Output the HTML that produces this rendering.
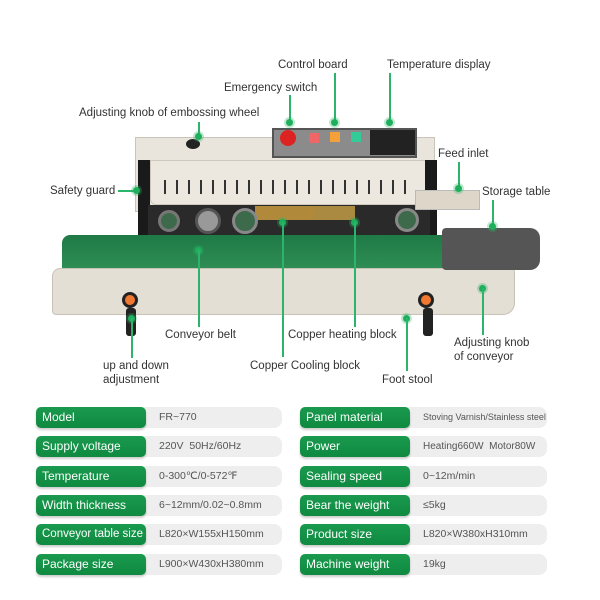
<!DOCTYPE html>
<html><head><style>
*{margin:0;padding:0;box-sizing:border-box}
body{width:600px;height:600px;background:#fff;position:relative;overflow:hidden;font-family:"Liberation Sans",sans-serif}
.a{position:absolute}
.t{position:absolute;font-size:11.5px;color:#333;white-space:nowrap;line-height:14px}
.v{position:absolute;width:2px;background:#2cb46a}
.h{position:absolute;height:2px;background:#2cb46a}
.d{position:absolute;width:7px;height:7px;border-radius:50%;background:#1fae5c;box-shadow:0 0 0 2px rgba(40,180,100,.3)}
.l{position:absolute;height:21px;border-radius:5px;background:linear-gradient(#1a9a4e,#0f8a40);color:#fff;font-size:12px;line-height:21px;padding-left:6px;box-shadow:0 2px 2px rgba(0,0,0,.2);width:110px;white-space:nowrap}
.g{position:absolute;height:21px;border-radius:0 8px 8px 0;background:#eeeeee;color:#555;font-size:10.5px;line-height:21px;padding-left:19px;white-space:nowrap}
.vent{position:absolute;top:180px;width:2px;height:14px;background:#333}
</style></head><body>
<!-- machine -->
<div class="a" style="left:135px;top:137px;width:300px;height:75px;background:#e9e4dc;border:1px solid #c9c3b8"></div>
<div class="a" style="left:150px;top:160px;width:280px;height:45px;background:#ece7df;border-radius:0 0 6px 6px;border:1px solid #cfc9bd"></div>
<div class="vent" style="left:164px"></div><div class="vent" style="left:176px"></div><div class="vent" style="left:188px"></div><div class="vent" style="left:200px"></div><div class="vent" style="left:212px"></div><div class="vent" style="left:224px"></div><div class="vent" style="left:236px"></div><div class="vent" style="left:248px"></div><div class="vent" style="left:260px"></div><div class="vent" style="left:272px"></div><div class="vent" style="left:284px"></div><div class="vent" style="left:296px"></div><div class="vent" style="left:308px"></div><div class="vent" style="left:320px"></div><div class="vent" style="left:332px"></div><div class="vent" style="left:344px"></div><div class="vent" style="left:356px"></div><div class="vent" style="left:368px"></div><div class="vent" style="left:380px"></div><div class="vent" style="left:392px"></div><div class="vent" style="left:404px"></div>
<div class="a" style="left:138px;top:160px;width:12px;height:75px;background:#1a1a1a"></div>
<div class="a" style="left:425px;top:160px;width:12px;height:75px;background:#1a1a1a"></div>
<div class="a" style="left:148px;top:205px;width:282px;height:35px;background:#2a2a2a"></div>
<div class="a" style="left:255px;top:206px;width:95px;height:14px;background:#b08a3a"></div>
<div class="a" style="left:315px;top:206px;width:40px;height:14px;background:#a98a40"></div>
<div class="a" style="left:158px;top:210px;width:22px;height:22px;border-radius:50%;background:#3e6a4c;border:3px solid #777"></div>
<div class="a" style="left:195px;top:208px;width:26px;height:26px;border-radius:50%;background:#999;border:3px solid #555"></div>
<div class="a" style="left:232px;top:208px;width:26px;height:26px;border-radius:50%;background:#3e6a4c;border:3px solid #888"></div>
<div class="a" style="left:395px;top:208px;width:24px;height:24px;border-radius:50%;background:#3e6a4c;border:3px solid #888"></div>
<div class="a" style="left:272px;top:128px;width:145px;height:30px;background:#8b8b8b;border:2px solid #555"></div>
<div class="a" style="left:280px;top:130px;width:16px;height:16px;border-radius:50%;background:#d22"></div>
<div class="a" style="left:309px;top:133px;width:10px;height:10px;background:#e66"></div>
<div class="a" style="left:330px;top:132px;width:10px;height:10px;background:#f6a03a"></div>
<div class="a" style="left:351px;top:132px;width:10px;height:10px;background:#3c9"></div>
<div class="a" style="left:370px;top:130px;width:45px;height:25px;background:#222"></div>
<div class="a" style="left:186px;top:139px;width:14px;height:10px;border-radius:50%;background:#222"></div>
<div class="a" style="left:415px;top:190px;width:65px;height:20px;background:#ddd6c9;border:1px solid #bbb"></div>
<div class="a" style="left:62px;top:235px;width:385px;height:35px;background:linear-gradient(#1f7a45,#2e8e55);border-radius:8px 0 0 0"></div>
<div class="a" style="left:52px;top:268px;width:463px;height:47px;background:#e4dfd5;border:1px solid #c8c2b6;border-radius:8px 4px 12px 4px"></div>
<div class="a" style="left:442px;top:228px;width:98px;height:42px;background:#555;border-radius:4px 10px 10px 4px"></div>
<div class="a" style="left:122px;top:292px;width:16px;height:16px;border-radius:50%;background:#f07830;border:3px solid #222"></div>
<div class="a" style="left:418px;top:292px;width:16px;height:16px;border-radius:50%;background:#f07830;border:3px solid #222"></div>
<div class="a" style="left:126px;top:308px;width:10px;height:28px;background:#222;border-radius:3px"></div>
<div class="a" style="left:423px;top:308px;width:10px;height:28px;background:#222;border-radius:3px"></div>
<!-- labels -->
<div class="t" style="left:278px;top:58px">Control board</div>
<div class="v" style="left:334px;top:73px;height:49px"></div><div class="d" style="left:331px;top:119px"></div>
<div class="t" style="left:387px;top:58px">Temperature display</div>
<div class="v" style="left:389px;top:73px;height:49px"></div><div class="d" style="left:386px;top:119px"></div>
<div class="t" style="left:224px;top:81px">Emergency switch</div>
<div class="v" style="left:289px;top:95px;height:27px"></div><div class="d" style="left:286px;top:119px"></div>
<div class="t" style="left:79px;top:106px">Adjusting knob of embossing wheel</div>
<div class="v" style="left:198px;top:122px;height:14px"></div><div class="d" style="left:195px;top:133px"></div>
<div class="t" style="left:438px;top:147px">Feed inlet</div>
<div class="v" style="left:458px;top:162px;height:26px"></div><div class="d" style="left:455px;top:185px"></div>
<div class="t" style="left:50px;top:184px">Safety guard</div>
<div class="h" style="left:118px;top:190px;width:18px"></div><div class="d" style="left:133px;top:187px"></div>
<div class="t" style="left:482px;top:185px">Storage table</div>
<div class="v" style="left:492px;top:200px;height:27px"></div><div class="d" style="left:489px;top:223px"></div>
<div class="d" style="left:195px;top:247px"></div><div class="v" style="left:198px;top:250px;height:77px"></div>
<div class="t" style="left:165px;top:328px">Conveyor belt</div>
<div class="d" style="left:351px;top:219px"></div><div class="v" style="left:354px;top:222px;height:105px"></div>
<div class="t" style="left:288px;top:328px">Copper heating block</div>
<div class="d" style="left:479px;top:285px"></div><div class="v" style="left:482px;top:288px;height:47px"></div>
<div class="t" style="left:454px;top:336px">Adjusting knob<br>of conveyor</div>
<div class="d" style="left:128px;top:315px"></div><div class="v" style="left:131px;top:318px;height:40px"></div>
<div class="t" style="left:103px;top:359px">up and down<br>adjustment</div>
<div class="d" style="left:279px;top:219px"></div><div class="v" style="left:282px;top:222px;height:135px"></div>
<div class="t" style="left:250px;top:359px">Copper Cooling block</div>
<div class="d" style="left:403px;top:315px"></div><div class="v" style="left:406px;top:318px;height:53px"></div>
<div class="t" style="left:382px;top:373px">Foot stool</div>
<!-- table -->
<div class="g" style="left:140px;top:407px;width:142px">FR~770</div><div class="l" style="left:36px;top:407px">Model</div>
<div class="g" style="left:140px;top:436px;width:142px">220V&nbsp; 50Hz/60Hz</div><div class="l" style="left:36px;top:436px">Supply voltage</div>
<div class="g" style="left:140px;top:466px;width:142px">0-300℃/0-572℉</div><div class="l" style="left:36px;top:466px">Temperature</div>
<div class="g" style="left:140px;top:495px;width:142px">6~12mm/0.02~0.8mm</div><div class="l" style="left:36px;top:495px">Width thickness</div>
<div class="g" style="left:140px;top:524px;width:142px">L820×W155xH150mm</div><div class="l" style="left:36px;top:524px;font-size:11.5px">Conveyor table size</div>
<div class="g" style="left:140px;top:554px;width:142px">L900×W430xH380mm</div><div class="l" style="left:36px;top:554px">Package size</div>
<div class="g" style="left:404px;top:407px;width:143px;font-size:9px">Stoving Varnish/Stainless steel</div><div class="l" style="left:300px;top:407px">Panel material</div>
<div class="g" style="left:404px;top:436px;width:143px;font-size:10px">Heating660W&nbsp; Motor80W</div><div class="l" style="left:300px;top:436px">Power</div>
<div class="g" style="left:404px;top:466px;width:143px">0~12m/min</div><div class="l" style="left:300px;top:466px">Sealing speed</div>
<div class="g" style="left:404px;top:495px;width:143px">≤5kg</div><div class="l" style="left:300px;top:495px">Bear the weight</div>
<div class="g" style="left:404px;top:524px;width:143px">L820×W380xH310mm</div><div class="l" style="left:300px;top:524px">Product size</div>
<div class="g" style="left:404px;top:554px;width:143px">19kg</div><div class="l" style="left:300px;top:554px">Machine weight</div>
</body></html>
